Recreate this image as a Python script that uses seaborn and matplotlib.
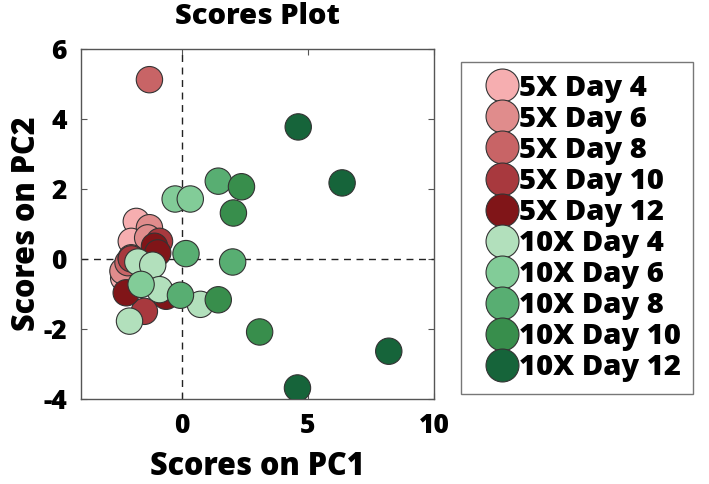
import numpy as np
import pandas as pd
import seaborn as sns
from matplotlib import pyplot as plt

# group labels in legend order
groups = ['5X Day 4', '5X Day 6', '5X Day 8', '5X Day 10', '5X Day 12',
          '10X Day 4', '10X Day 6', '10X Day 8', '10X Day 10', '10X Day 12']

colors = ['#f6aeb0', '#e08c8c', '#c86466', '#a8393e', '#801518',
          '#b2e0bc', '#82cc98', '#58ae72', '#388e4c', '#16643a']

# scores, one list per group
pc1 = {
    '5X Day 4': [-1.80, -2.00, -2.30],
    '5X Day 6': [-1.28, -1.35, -2.33],
    '5X Day 8': [-1.28, -2.13, -2.00],
    '5X Day 10': [-0.88, -1.48, -2.00],
    '5X Day 12': [-1.08, -2.20, -0.62, -0.95],
    '10X Day 4': [-1.74, -1.15, -0.88, -2.07, 0.74],
    '10X Day 6': [-0.26, 0.34, -1.61],
    '10X Day 8': [1.45, 0.17, 2.02, -0.05],
    '10X Day 10': [2.37, 2.05, 3.09, 1.45],
    '10X Day 12': [4.62, 6.36, 8.21, 4.59],
}
pc2 = {
    '5X Day 4': [1.07, 0.50, -0.55],
    '5X Day 6': [0.89, 0.60, -0.35],
    '5X Day 8': [5.12, -0.11, 0.03],
    '5X Day 10': [0.50, -1.50, 0.00],
    '5X Day 12': [0.36, -0.97, -1.07, 0.17],
    '10X Day 4': [-0.09, -0.18, -0.88, -1.78, -1.30],
    '10X Day 6': [1.71, 1.71, -0.73],
    '10X Day 8': [2.22, 0.15, -0.09, -1.04],
    '10X Day 10': [2.06, 1.31, -2.09, -1.17],
    '10X Day 12': [3.77, 2.17, -2.64, -3.69],
}

rows = []
for g in groups:
    for x, y in zip(pc1[g], pc2[g]):
        rows.append({'group': g, 'PC1': x, 'PC2': y})
df = pd.DataFrame(rows)

sns.set_style("ticks")
plt.rcParams['font.family'] = ['Open Sans', 'DejaVu Sans']
plt.rcParams['font.weight'] = 'heavy'
plt.rcParams['text.color'] = 'black'
plt.rcParams['xtick.color'] = 'black'
plt.rcParams['ytick.color'] = 'black'
plt.rcParams['axes.labelcolor'] = 'black'
plt.rcParams['axes.unicode_minus'] = False

fig = plt.figure(figsize=(7.09, 4.84), dpi=100)
ax = fig.add_axes([0.114, 0.176, 0.498, 0.723])

ax.axvline(0, color='#222222', ls=(0, (5, 4)), lw=1, zorder=1)
ax.axhline(0, color='#222222', ls=(0, (5, 4)), lw=1, zorder=1)

sns.scatterplot(data=df, x='PC1', y='PC2', hue='group', hue_order=groups,
                palette=colors, s=360, edgecolor='#333333', linewidth=0.8,
                alpha=1, ax=ax, zorder=3, legend=True)

ax.set_xlim(-4, 10)
ax.set_ylim(-4, 6)
ax.set_xticks([0, 5, 10])
ax.set_yticks([-4, -2, 0, 2, 4, 6])
ax.tick_params(direction='in', top=True, right=True, length=4, width=0.8,
               color='#555555', labelcolor='black', labelsize=19, pad=10)
for lab in ax.get_xticklabels() + ax.get_yticklabels():
    lab.set_fontweight('heavy')
for sp in ax.spines.values():
    sp.set_color('#555555')
    sp.set_linewidth(1)

ax.set_xlabel('Scores on PC1', fontsize=22, fontweight='heavy', labelpad=9)
ax.set_ylabel('Scores on PC2', fontsize=22, fontweight='heavy', labelpad=0)
ax.set_title('Scores Plot', fontsize=21, fontweight='heavy', pad=18)

leg = ax.legend(loc='upper left', bbox_to_anchor=(0.65, 0.872),
                bbox_transform=fig.transFigure, frameon=True,
                fontsize=21, markerscale=1.25, handletextpad=-0.39,
                labelspacing=0.07, borderpad=0.4, borderaxespad=0,
                fancybox=False, handlelength=2.0)
leg.get_frame().set_edgecolor('#555555')
leg.get_frame().set_linewidth(1)
for t in leg.get_texts():
    t.set_fontweight('heavy')

fig.savefig('out.png', dpi=100)
